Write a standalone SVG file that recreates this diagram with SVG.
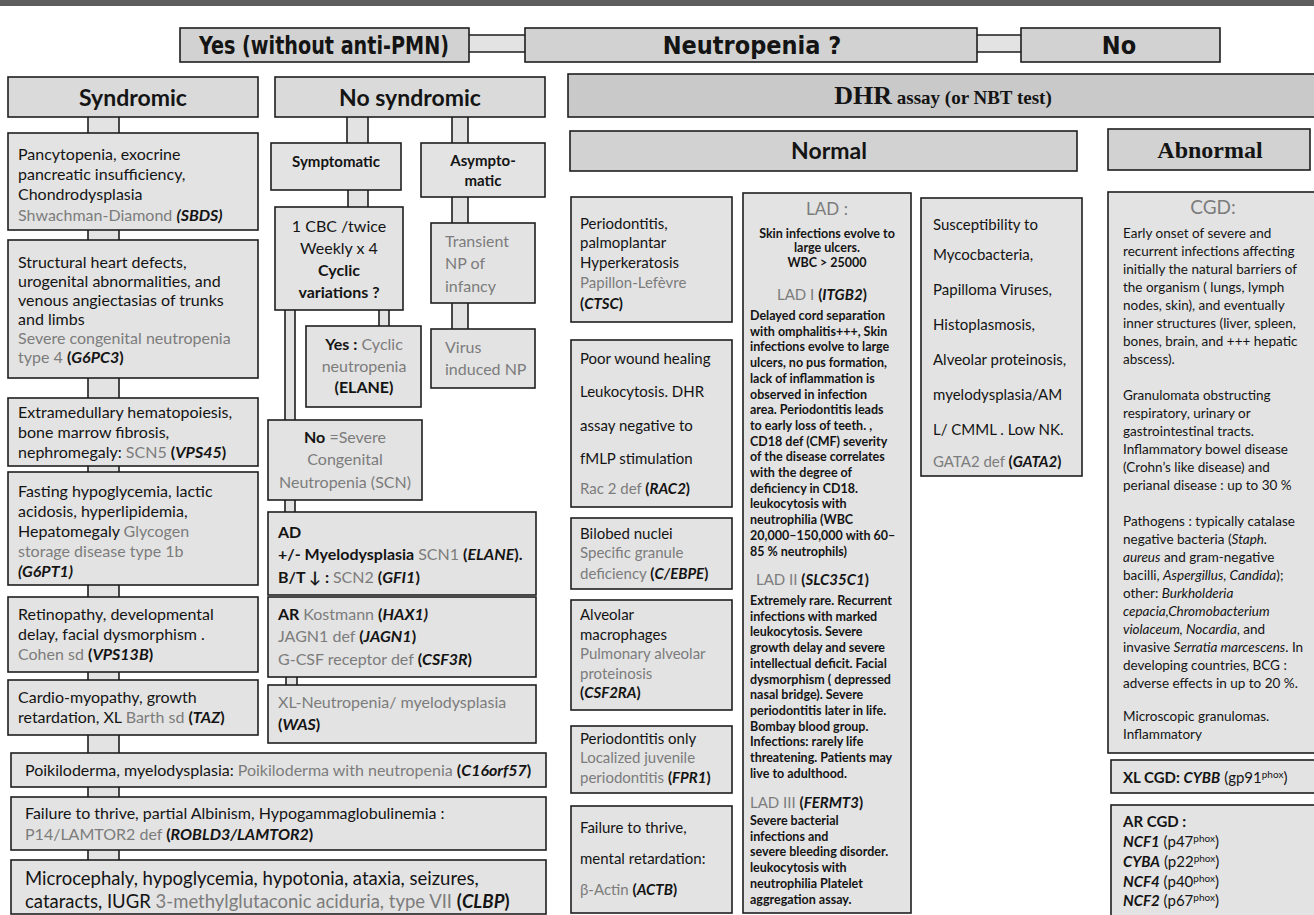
<svg xmlns="http://www.w3.org/2000/svg" width="1314" height="915" viewBox="0 0 1314 915">
<style>
.box{fill:#e3e3e3;stroke:#1e1e1e;stroke-width:1.6}
.hbox{fill:#d2d2d2;stroke:#1e1e1e;stroke-width:1.6}
.dbox{fill:#c9c9c9;stroke:#1e1e1e;stroke-width:1.6}
.pipe{fill:#e3e3e3;stroke:none}
.pl{stroke:#1e1e1e;stroke-width:1.6;fill:none}
text{font-family:Lato,'Liberation Sans',sans-serif;fill:#141414}
.h1{font-family:'DejaVu Sans Condensed','DejaVu Sans',sans-serif;font-weight:bold;font-size:24px;text-anchor:middle}
.h2{font-weight:bold;font-size:23px;text-anchor:middle}
.sf{font-family:'Liberation Serif',serif;font-weight:bold}
.t{font-size:16px}
.s{font-size:15px}
.c{text-anchor:middle}
.g{fill:#7c7c7c}
.b{font-weight:bold}
.i{font-style:italic}
.lad{font-size:12.5px;font-weight:bold}
.cgd{font-size:13.5px}
.sup{font-size:10px}
</style>

<!-- top band -->
<rect x="0" y="0" width="1314" height="6" fill="#5e5e5e"/>

<!-- connectors -->
<g id="connectors">
  <!-- header pipes -->
  <rect class="pipe" x="469" y="35" width="56" height="17"/>
  <path class="pl" d="M469 35H525M469 52H525"/>
  <rect class="pipe" x="977" y="35" width="44" height="17"/>
  <path class="pl" d="M977 35H1021M977 52H1021"/>
  <!-- syndromic column -->
  <rect class="pipe" x="88" y="117" width="31" height="16"/>
  <rect class="pipe" x="88" y="230" width="31" height="10"/>
  <rect class="pipe" x="88" y="378" width="31" height="20"/>
  <rect class="pipe" x="88" y="466" width="31" height="6"/>
  <rect class="pipe" x="88" y="585" width="31" height="12"/>
  <rect class="pipe" x="88" y="672" width="31" height="8"/>
  <rect class="pipe" x="88" y="735" width="31" height="18"/>
  <rect class="pipe" x="88" y="787" width="31" height="10"/>
  <rect class="pipe" x="88" y="850" width="31" height="10"/>
  <path class="pl" d="M88 117V133M119 117V133M88 230V240M119 230V240M88 378V398M119 378V398M88 466V472M119 466V472M88 585V597M119 585V597M88 672V680M119 672V680M88 735V753M119 735V753M88 787V797M119 787V797M88 850V860M119 850V860"/>
  <!-- no syndromic column -->
  <rect class="pipe" x="347" y="117" width="21" height="26"/>
  <rect class="pipe" x="452" y="117" width="16" height="26"/>
  <rect class="pipe" x="348" y="190" width="20" height="17"/>
  <rect class="pipe" x="452" y="197" width="16" height="26"/>
  <rect class="pipe" x="452" y="303" width="16" height="26"/>
  <rect class="pipe" x="379" y="310" width="10" height="16"/>
  <rect class="pipe" x="285" y="310" width="10" height="110"/>
  <rect class="pipe" x="285" y="500" width="10" height="12"/>
  <rect class="pipe" x="286" y="677" width="11" height="8"/>
  <path class="pl" d="M347 117V143M368 117V143M452 117V143M468 117V143M348 190V207M368 190V207M452 197V223M468 197V223M452 303V329M468 303V329M379 310V326M389 310V326M285 310V420M295 310V420M285 500V512M295 500V512M286 677V685M297 677V685"/>
</g>

<!-- header row -->
<g id="n-yes"><rect class="hbox" x="180" y="28" width="289" height="34"/><text class="h1" x="324" y="54" textLength="250" lengthAdjust="spacingAndGlyphs">Yes (without anti-PMN)</text></g>
<g id="n-neutropenia"><rect class="hbox" x="525" y="28" width="452" height="34"/><text class="h1" x="752" y="54" style="font-size:25px">Neutropenia ?</text></g>
<g id="n-no"><rect class="hbox" x="1021" y="28" width="199" height="34"/><text class="h1" x="1119" y="54" style="font-size:25px">No</text></g>

<!-- syndromic column -->
<g id="n-syndromic"><rect class="box" x="8" y="77" width="250" height="40" style="fill:#dadada"/><text class="h2" x="133" y="106">Syndromic</text></g>
<g id="n-sbds"><rect class="box" x="8" y="133" width="250" height="97"/>
<text class="t" x="18" y="160">Pancytopenia, exocrine</text>
<text class="t" x="18" y="180">pancreatic insufficiency,</text>
<text class="t" x="18" y="200">Chondrodysplasia</text>
<text class="t" x="18" y="221"><tspan class="g">Shwachman-Diamond </tspan><tspan class="b i">(SBDS)</tspan></text></g>
<g id="n-g6pc3"><rect class="box" x="8" y="240" width="250" height="138"/>
<text class="t" x="18" y="268">Structural heart defects,</text>
<text class="t" x="18" y="287">urogenital abnormalities, and</text>
<text class="t" x="18" y="306">venous angiectasias of trunks</text>
<text class="t" x="18" y="325">and limbs</text>
<text class="t g" x="18" y="344">Severe congenital neutropenia</text>
<text class="t" x="18" y="363"><tspan class="g">type 4 </tspan><tspan class="b">(</tspan><tspan class="b i">G6PC3</tspan><tspan class="b">)</tspan></text></g>
<g id="n-vps45"><rect class="box" x="8" y="398" width="250" height="68"/>
<text class="t" x="18" y="418">Extramedullary hematopoiesis,</text>
<text class="t" x="18" y="438">bone marrow fibrosis,</text>
<text class="t" x="18" y="458">nephromegaly: <tspan class="g">SCN5 </tspan><tspan class="b">(</tspan><tspan class="b i">VPS45</tspan><tspan class="b">)</tspan></text></g>
<g id="n-g6pt1"><rect class="box" x="8" y="472" width="250" height="113"/>
<text class="t" x="18" y="497">Fasting hypoglycemia, lactic</text>
<text class="t" x="18" y="517">acidosis, hyperlipidemia,</text>
<text class="t" x="18" y="537">Hepatomegaly <tspan class="g">Glycogen</tspan></text>
<text class="t g" x="18" y="557">storage disease type 1b</text>
<text class="t b i" x="18" y="577">(G6PT1)</text></g>
<g id="n-vps13b"><rect class="box" x="8" y="597" width="250" height="75"/>
<text class="t" x="18" y="620">Retinopathy, developmental</text>
<text class="t" x="18" y="640">delay, facial dysmorphism .</text>
<text class="t" x="18" y="660"><tspan class="g">Cohen sd </tspan><tspan class="b">(</tspan><tspan class="b i">VPS13B</tspan><tspan class="b">)</tspan></text></g>
<g id="n-taz"><rect class="box" x="8" y="680" width="250" height="55"/>
<text class="t" x="18" y="703">Cardio-myopathy, growth</text>
<text class="t" x="18" y="723">retardation, XL <tspan class="g">Barth sd </tspan><tspan class="b">(</tspan><tspan class="b i">TAZ</tspan><tspan class="b">)</tspan></text></g>

<!-- wide boxes -->
<g id="n-c16orf57"><rect class="box" x="11" y="753" width="535" height="34"/>
<text class="t" x="25" y="776">Poikiloderma, myelodysplasia: <tspan class="g">Poikiloderma with neutropenia </tspan><tspan class="b">(</tspan><tspan class="b i">C16orf57</tspan><tspan class="b">)</tspan></text></g>
<g id="n-lamtor2"><rect class="box" x="11" y="797" width="535" height="53"/>
<text class="t" x="25" y="819">Failure to thrive,  partial Albinism, Hypogammaglobulinemia :</text>
<text class="t" x="25" y="840"><tspan class="g">P14/LAMTOR2 def </tspan><tspan class="b">(</tspan><tspan class="b i">ROBLD3/LAMTOR2</tspan><tspan class="b">)</tspan></text></g>
<g id="n-clbp"><rect class="box" x="11" y="860" width="535" height="54"/>
<text x="25" y="885" style="font-size:18.5px">Microcephaly, hypoglycemia, hypotonia, ataxia, seizures,</text>
<text x="25" y="908" style="font-size:18.5px">cataracts, IUGR <tspan class="g">3-methylglutaconic aciduria, type VII </tspan><tspan class="b">(</tspan><tspan class="b i">CLBP</tspan><tspan class="b">)</tspan></text></g>

<!-- no syndromic column -->
<g id="n-nosyndromic"><rect class="box" x="275" y="77" width="270" height="40" style="fill:#dadada"/><text class="h2" x="410" y="106">No syndromic</text></g>
<g id="n-symptomatic"><rect class="box" x="271" y="143" width="130" height="47"/><text class="s b c" x="336" y="167">Symptomatic</text></g>
<g id="n-asymptomatic"><rect class="box" x="421" y="143" width="124" height="54"/><text class="s b c" x="483" y="166">Asympto-</text><text class="s b c" x="483" y="186">matic</text></g>
<g id="n-cbc"><rect class="box" x="275" y="207" width="128" height="103"/>
<text class="t c" x="339" y="232">1 CBC /twice</text>
<text class="t c" x="339" y="254">Weekly  x 4</text>
<text class="t c b" x="339" y="276">Cyclic</text>
<text class="t c b" x="339" y="298">variations ?</text></g>
<g id="n-transient"><rect class="box" x="431" y="223" width="104" height="80"/>
<text class="t g" x="445" y="247">Transient</text>
<text class="t g" x="445" y="269">NP of</text>
<text class="t g" x="445" y="292">infancy</text></g>
<g id="n-virus"><rect class="box" x="431" y="329" width="104" height="59"/>
<text class="t g" x="445" y="353">Virus</text>
<text class="t g" x="445" y="375">induced NP</text></g>
<g id="n-cyclic"><rect class="box" x="306" y="326" width="115" height="81"/>
<text class="t c" x="364" y="350"><tspan class="b">Yes :</tspan><tspan class="g"> Cyclic</tspan></text>
<text class="t c g" x="364" y="372">neutropenia</text>
<text class="t c b" x="364" y="393">(ELANE)</text></g>
<g id="n-scn"><rect class="box" x="268" y="420" width="154" height="80"/>
<text class="t c" x="345" y="443"><tspan class="b">No</tspan><tspan class="g"> =Severe</tspan></text>
<text class="t c g" x="345" y="465">Congenital</text>
<text class="t c g" x="345" y="488">Neutropenia (SCN)</text></g>
<g id="n-ad"><rect class="box" x="268" y="512" width="268" height="83"/>
<text class="t b" x="278" y="538">AD</text>
<text class="t" x="278" y="560"><tspan class="b">+/- Myelodysplasia </tspan><tspan class="g"> SCN1 </tspan><tspan class="b">(</tspan><tspan class="b i">ELANE</tspan><tspan class="b">).</tspan></text>
<text class="t" x="278" y="583"><tspan class="b">B/T ↓ : </tspan><tspan class="g">SCN2 </tspan><tspan class="b"> (</tspan><tspan class="b i">GFI1</tspan><tspan class="b">)</tspan></text></g>
<g id="n-ar"><rect class="box" x="268" y="597" width="268" height="80"/>
<text class="t" x="278" y="620"><tspan class="b">AR </tspan><tspan class="g"> Kostmann </tspan><tspan class="b">(</tspan><tspan class="b i">HAX1)</tspan></text>
<text class="t" x="278" y="642"><tspan class="g">JAGN1 def </tspan><tspan class="b">(</tspan><tspan class="b i">JAGN1</tspan><tspan class="b">)</tspan></text>
<text class="t" x="278" y="665"><tspan class="g">G-CSF receptor def </tspan><tspan class="b">(</tspan><tspan class="b i">CSF3R</tspan><tspan class="b">)</tspan></text></g>
<g id="n-was"><rect class="box" x="268" y="685" width="268" height="58"/>
<text class="t g" x="278" y="708">XL-Neutropenia/ myelodysplasia</text>
<text class="t" x="278" y="730"><tspan class="b">(</tspan><tspan class="b i">WAS</tspan><tspan class="b">)</tspan></text></g>

<!-- DHR branch -->
<g id="n-dhr"><rect class="dbox" x="568" y="74" width="750" height="43"/>
<text class="sf c" x="943" y="104"><tspan style="font-size:26px">DHR</tspan><tspan style="font-size:19px">  assay (or NBT test)</tspan></text></g>
<g id="n-normal"><rect class="hbox" x="570" y="131" width="507" height="40"/><text class="h2" x="829" y="159">Normal</text></g>
<g id="n-abnormal"><rect class="hbox" x="1108" y="129" width="202" height="41"/><text class="sf c" x="1210" y="158" style="font-size:24px">Abnormal</text></g>

<g id="n-ctsc"><rect class="box" x="571" y="197" width="161" height="125"/>
<text class="s" x="580" y="229">Periodontitis,</text>
<text class="s" x="580" y="248">palmoplantar</text>
<text class="s" x="580" y="268">Hyperkeratosis</text>
<text class="s g" x="580" y="288">Papillon-Lefèvre</text>
<text class="s" x="580" y="309"><tspan class="b">(</tspan><tspan class="b i">CTSC</tspan><tspan class="b">)</tspan></text></g>
<g id="n-rac2"><rect class="box" x="571" y="340" width="161" height="167"/>
<text class="s" x="580" y="364">Poor wound healing</text>
<text class="s" x="580" y="397">Leukocytosis. DHR</text>
<text class="s" x="580" y="431">assay negative to</text>
<text class="s" x="580" y="464">fMLP stimulation</text>
<text class="s" x="580" y="494"><tspan class="g">Rac 2 def </tspan><tspan class="b">(</tspan><tspan class="b i">RAC2</tspan><tspan class="b">)</tspan></text></g>
<g id="n-cebpe"><rect class="box" x="571" y="518" width="161" height="71"/>
<text class="s" x="580" y="539">Bilobed nuclei</text>
<text class="s g" x="580" y="558">Specific granule</text>
<text class="s" x="580" y="579"><tspan class="g">deficiency </tspan><tspan class="b">(</tspan><tspan class="b i">C/EBPE</tspan><tspan class="b">)</tspan></text></g>
<g id="n-csf2ra"><rect class="box" x="571" y="600" width="161" height="110"/>
<text class="s" x="580" y="620">Alveolar</text>
<text class="s" x="580" y="640">macrophages</text>
<text class="s g" x="580" y="659">Pulmonary alveolar</text>
<text class="s g" x="580" y="679">proteinosis</text>
<text class="s" x="580" y="698"><tspan class="b">(</tspan><tspan class="b i">CSF2RA</tspan><tspan class="b">)</tspan></text></g>
<g id="n-fpr1"><rect class="box" x="571" y="726" width="161" height="67"/>
<text class="s" x="580" y="744">Periodontitis only</text>
<text class="s g" x="580" y="763">Localized juvenile</text>
<text class="s" x="580" y="783"><tspan class="g">periodontitis </tspan><tspan class="b">(</tspan><tspan class="b i">FPR1</tspan><tspan class="b">)</tspan></text></g>
<g id="n-actb"><rect class="box" x="571" y="806" width="161" height="107"/>
<text class="s" x="580" y="833">Failure to thrive,</text>
<text class="s" x="580" y="864">mental retardation:</text>
<text class="s" x="580" y="895"><tspan class="g">β-Actin </tspan><tspan class="b">(</tspan><tspan class="b i">ACTB</tspan><tspan class="b">)</tspan></text></g>

<g id="n-lad"><rect class="box" x="743" y="193" width="168" height="720"/>
<text class="g c" x="827" y="215" style="font-size:17px">LAD :</text>
<text class="lad c" x="827" y="238">Skin infections evolve to</text>
<text class="lad c" x="827" y="252">large ulcers.</text>
<text class="lad c" x="827" y="267">WBC &gt; 25000</text>
<text x="777" y="300" style="font-size:15px"><tspan class="g">LAD I  </tspan><tspan class="b">(</tspan><tspan class="b i">ITGB2</tspan><tspan class="b">)</tspan></text>
<text class="lad" x="750" y="320">Delayed cord separation</text>
<text class="lad" x="750" y="335.7">with omphalitis+++,  Skin</text>
<text class="lad" x="750" y="351.4">infections evolve to large</text>
<text class="lad" x="750" y="367.1">ulcers,  no pus formation,</text>
<text class="lad" x="750" y="382.8">lack of inflammation is</text>
<text class="lad" x="750" y="398.5">observed in infection</text>
<text class="lad" x="750" y="414.2">area. Periodontitis leads</text>
<text class="lad" x="750" y="429.9">to early loss of teeth. ,</text>
<text class="lad" x="750" y="445.6">CD18 def (CMF) severity</text>
<text class="lad" x="750" y="461.3">of the disease correlates</text>
<text class="lad" x="750" y="477">with the degree of</text>
<text class="lad" x="750" y="492.7">deficiency in CD18.</text>
<text class="lad" x="750" y="508.4">leukocytosis with</text>
<text class="lad" x="750" y="524.1">neutrophilia (WBC</text>
<text class="lad" x="750" y="539.8">20,000–150,000 with 60–</text>
<text class="lad" x="750" y="555.5">85 % neutrophils)</text>
<text x="756" y="585" style="font-size:15px"><tspan class="g">LAD II  </tspan><tspan class="b">(</tspan><tspan class="b i">SLC35C1</tspan><tspan class="b">)</tspan></text>
<text class="lad" x="750" y="605">Extremely rare. Recurrent</text>
<text class="lad" x="750" y="620.7">infections with marked</text>
<text class="lad" x="750" y="636.4">leukocytosis. Severe</text>
<text class="lad" x="750" y="652.1">growth delay and severe</text>
<text class="lad" x="750" y="667.8">intellectual deficit. Facial</text>
<text class="lad" x="750" y="683.5">dysmorphism ( depressed</text>
<text class="lad" x="750" y="699.2">nasal bridge). Severe</text>
<text class="lad" x="750" y="714.9">periodontitis later in life.</text>
<text class="lad" x="750" y="730.6">Bombay blood group.</text>
<text class="lad" x="750" y="746.3">Infections: rarely life</text>
<text class="lad" x="750" y="762">threatening. Patients may</text>
<text class="lad" x="750" y="777.7">live to adulthood.</text>
<text x="750" y="808" style="font-size:15px"><tspan class="g">LAD III  </tspan><tspan class="b">(</tspan><tspan class="b i">FERMT3</tspan><tspan class="b">)</tspan></text>
<text class="lad" x="750" y="825">Severe bacterial</text>
<text class="lad" x="750" y="840.7">infections and</text>
<text class="lad" x="750" y="856.4">severe bleeding disorder.</text>
<text class="lad" x="750" y="872.1">leukocytosis with</text>
<text class="lad" x="750" y="887.8">neutrophilia Platelet</text>
<text class="lad" x="750" y="903.5">aggregation assay.</text></g>

<g id="n-gata2"><rect class="box" x="921" y="198" width="161" height="278"/>
<text class="s" x="933" y="230">Susceptibility to</text>
<text class="s" x="933" y="260">Mycocbacteria,</text>
<text class="s" x="933" y="295">Papilloma Viruses,</text>
<text class="s" x="933" y="330">Histoplasmosis,</text>
<text class="s" x="933" y="365">Alveolar proteinosis,</text>
<text class="s" x="933" y="400">myelodysplasia/AM</text>
<text class="s" x="933" y="435">L/ CMML . Low NK.</text>
<text class="s" x="933" y="467"><tspan class="g">GATA2 def </tspan><tspan class="b">(</tspan><tspan class="b i">GATA2</tspan><tspan class="b">)</tspan></text></g>

<g id="n-cgd"><rect class="box" x="1108" y="192" width="210" height="561"/>
<text class="g c" x="1213" y="214" style="font-size:19px">CGD:</text>
<text class="cgd" x="1123" y="238">Early onset of severe and</text>
<text class="cgd" x="1123" y="256">recurrent infections affecting</text>
<text class="cgd" x="1123" y="274">initially the natural barriers of</text>
<text class="cgd" x="1123" y="292">the organism ( lungs, lymph</text>
<text class="cgd" x="1123" y="310">nodes, skin), and eventually</text>
<text class="cgd" x="1123" y="328">inner structures (liver, spleen,</text>
<text class="cgd" x="1123" y="346">bones, brain, and +++ hepatic</text>
<text class="cgd" x="1123" y="364">abscess).</text>
<text class="cgd" x="1123" y="400">Granulomata obstructing</text>
<text class="cgd" x="1123" y="418">respiratory, urinary or</text>
<text class="cgd" x="1123" y="436">gastrointestinal tracts.</text>
<text class="cgd" x="1123" y="454">Inflammatory bowel disease</text>
<text class="cgd" x="1123" y="472">(Crohn’s like disease) and</text>
<text class="cgd" x="1123" y="490">perianal disease : up to 30 %</text>
<text class="cgd" x="1123" y="526">Pathogens : typically catalase</text>
<text class="cgd" x="1123" y="544">negative bacteria (<tspan class="i">Staph.</tspan></text>
<text class="cgd" x="1123" y="562"><tspan class="i">aureus</tspan> and gram-negative</text>
<text class="cgd" x="1123" y="580">bacilli, <tspan class="i">Aspergillus, Candida</tspan>);</text>
<text class="cgd" x="1123" y="598">other: <tspan class="i">Burkholderia</tspan></text>
<text class="cgd i" x="1123" y="616">cepacia,Chromobacterium</text>
<text class="cgd" x="1123" y="634"><tspan class="i">violaceum, Nocardia</tspan>, and</text>
<text class="cgd" x="1123" y="652">invasive <tspan class="i">Serratia marcescens</tspan>. In</text>
<text class="cgd" x="1123" y="670">developing countries, BCG :</text>
<text class="cgd" x="1123" y="688">adverse effects in up to 20 %.</text>
<text class="cgd" x="1123" y="721">Microscopic granulomas.</text>
<text class="cgd" x="1123" y="739">Inflammatory</text></g>

<g id="n-xlcgd"><rect class="box" x="1111" y="760" width="207" height="33"/>
<text class="s" x="1123" y="783"><tspan class="b">XL CGD:  </tspan><tspan class="b i">CYBB</tspan> (gp91<tspan class="sup" dy="-5">phox</tspan><tspan dy="5">)</tspan></text></g>
<g id="n-arcgd"><rect class="box" x="1111" y="805" width="207" height="115"/>
<text class="s b" x="1123" y="827">AR  CGD :</text>
<text class="s" x="1123" y="847"><tspan class="b i">NCF1</tspan> (p47<tspan class="sup" dy="-5">phox</tspan><tspan dy="5">)</tspan></text>
<text class="s" x="1123" y="867"><tspan class="b i">CYBA</tspan> (p22<tspan class="sup" dy="-5">phox</tspan><tspan dy="5">)</tspan></text>
<text class="s" x="1123" y="887"><tspan class="b i">NCF4</tspan> (p40<tspan class="sup" dy="-5">phox</tspan><tspan dy="5">)</tspan></text>
<text class="s" x="1123" y="906"><tspan class="b i">NCF2</tspan> (p67<tspan class="sup" dy="-5">phox</tspan><tspan dy="5">)</tspan></text></g>
</svg>
